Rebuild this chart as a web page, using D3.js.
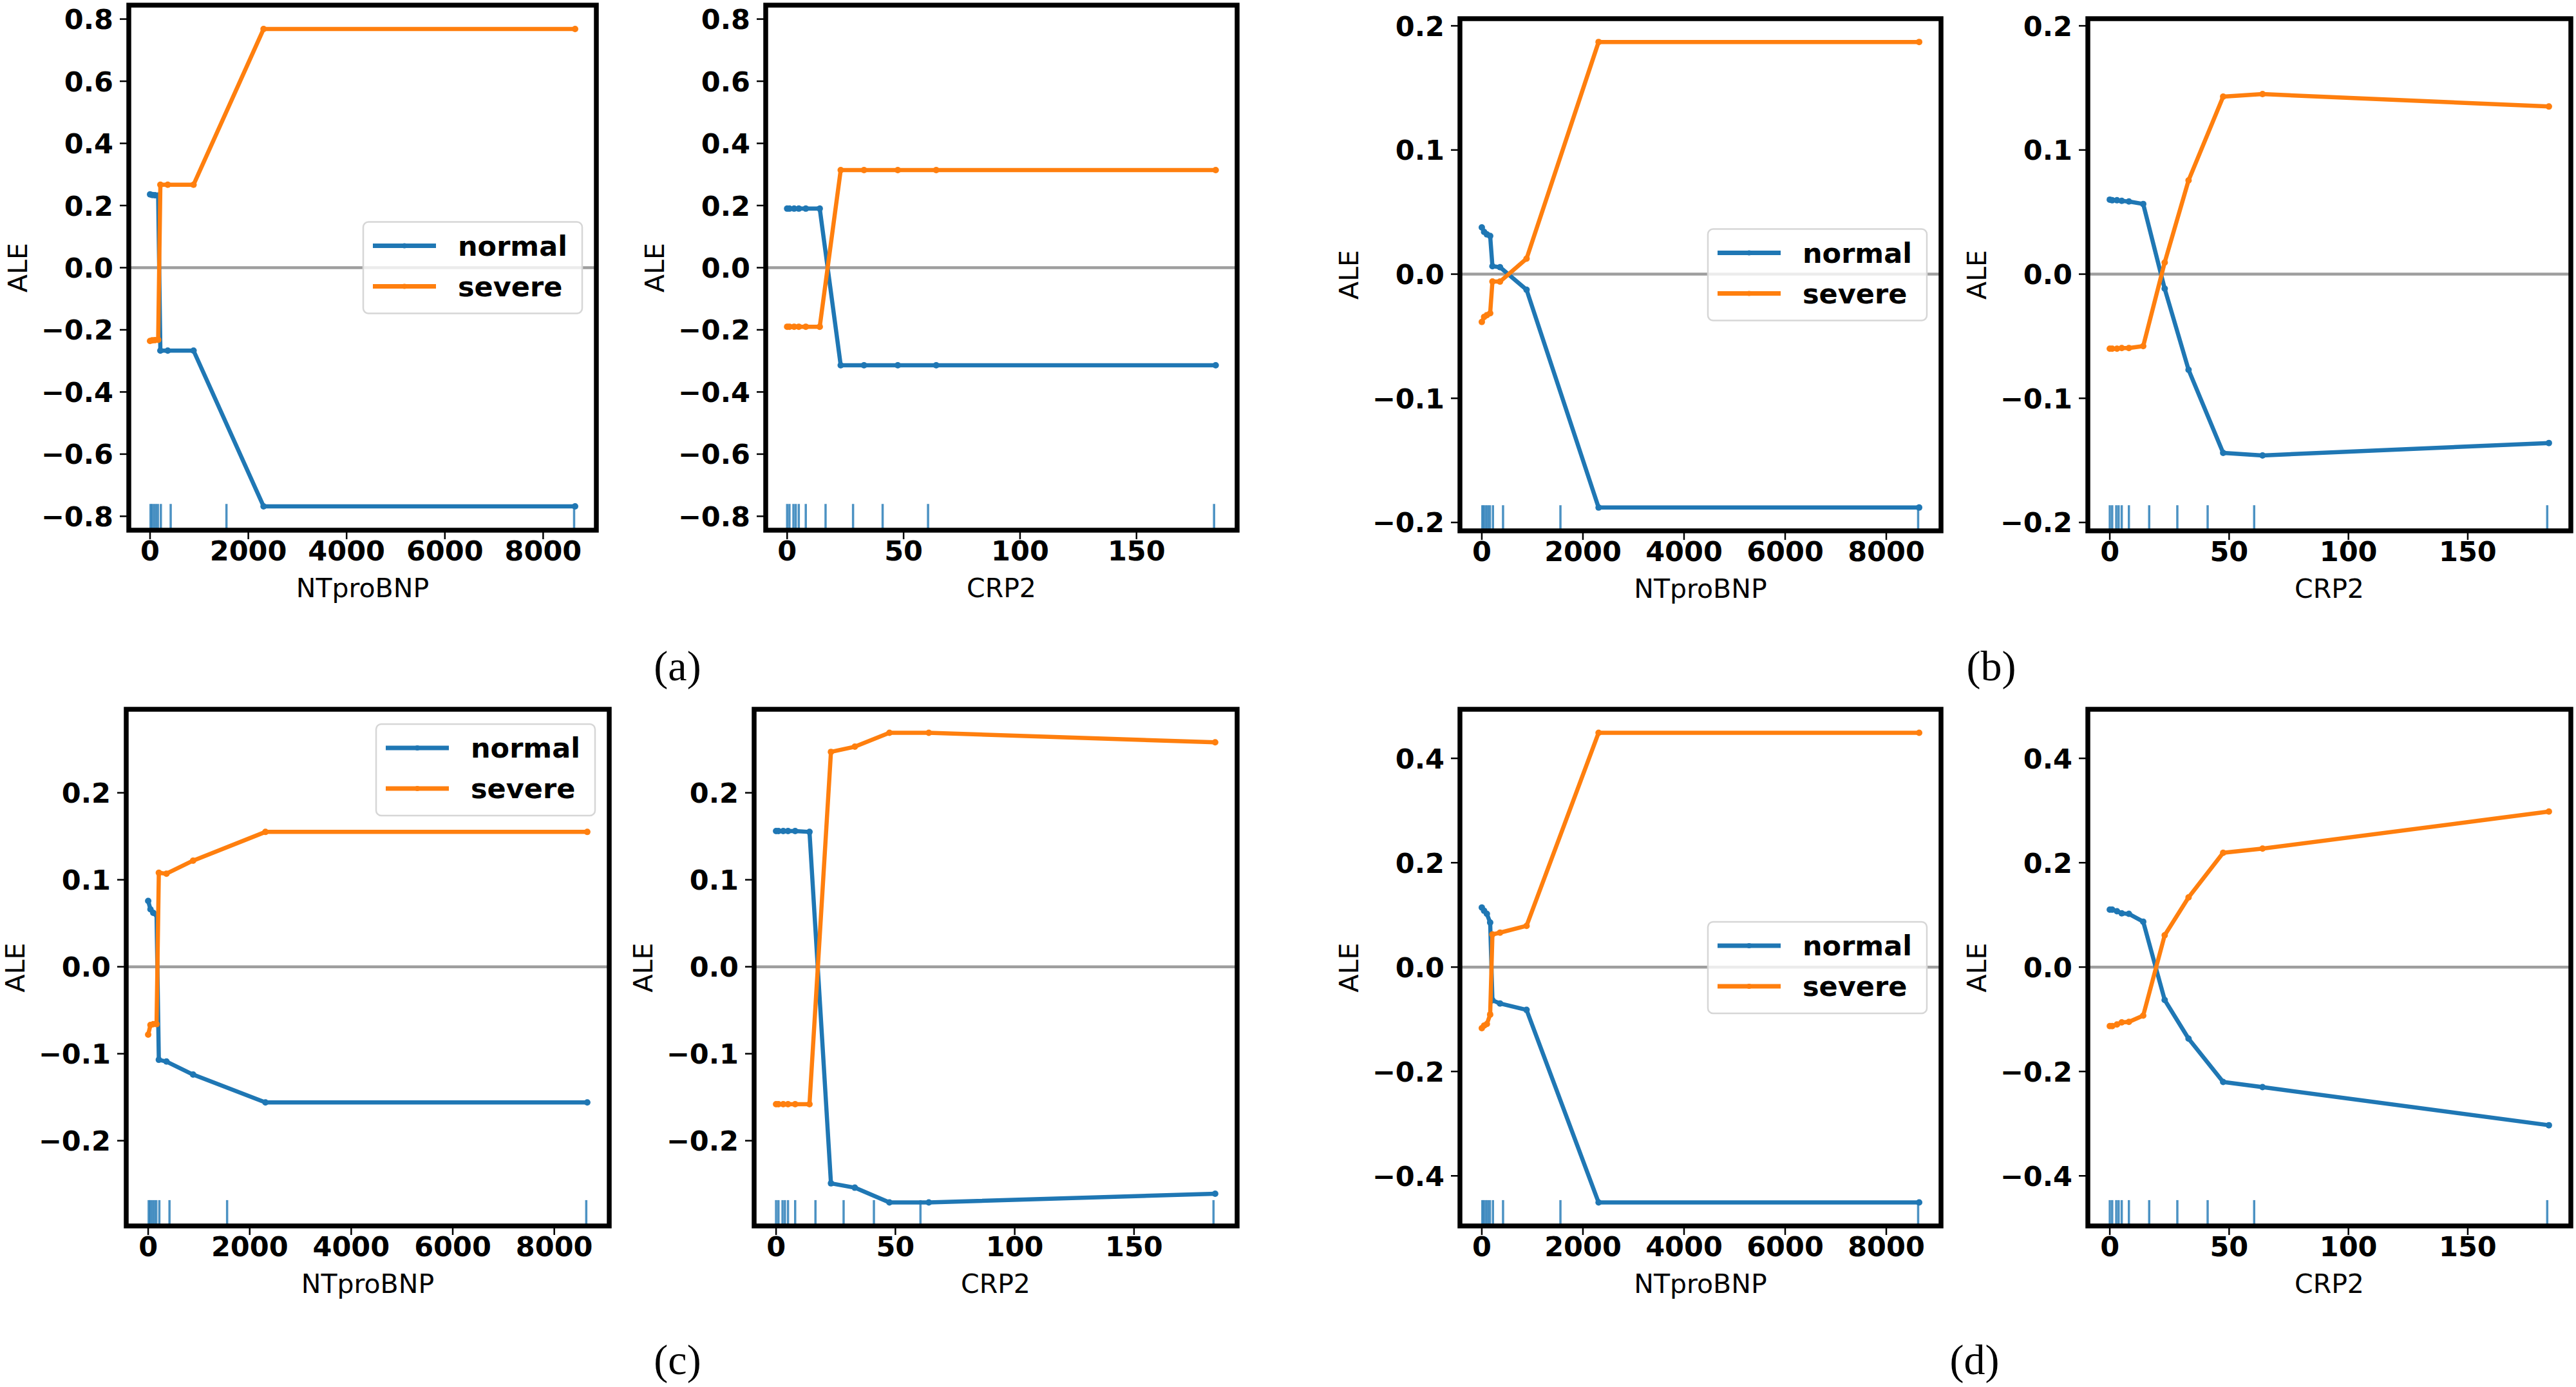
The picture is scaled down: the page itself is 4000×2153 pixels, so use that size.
<!DOCTYPE html>
<html>
<head>
<meta charset="utf-8">
<script src="https://cdn.jsdelivr.net/npm/d3@7"></script>
<style>
body { margin: 0; background: #fff; }
</style>
</head>
<body>
<script>
// feature grids (bin edges) and rug (deciles)
var ntGrid = [0, 45, 100, 165, 210, 360, 885, 2310, 8650];
var crpGrid = [0, 1, 3, 5, 8, 14, 23, 33, 47.5, 64, 184];
var ntRug = [10, 40, 80, 120, 160, 220, 420, 1555, 8630];
var crpRug = [0, 1, 2.7, 3.7, 5, 8, 16.5, 28.3, 41, 60.5, 183.3];

var ntTicks = [0, 2000, 4000, 6000, 8000];
var crpTicks = [0, 50, 100, 150];

var classes = ["normal", "severe"];

// (a)
var aNtNormal = [0.236, 0.234, 0.233, 0.232, -0.267, -0.267, -0.267, -0.768, -0.768];
var aNtSevere = [-0.236, -0.234, -0.233, -0.232, 0.267, 0.267, 0.267, 0.768, 0.768];
var aCrpNormal = [0.19, 0.19, 0.19, 0.19, 0.19, 0.19, -0.314, -0.314, -0.314, -0.314, -0.314];
var aCrpSevere = [-0.19, -0.19, -0.19, -0.19, -0.19, -0.19, 0.314, 0.314, 0.314, 0.314, 0.314];
var aTicks = [-0.8, -0.6, -0.4, -0.2, 0, 0.2, 0.4, 0.6, 0.8];

// (b)
var bNtNormal = [0.0376, 0.034, 0.032, 0.0307, 0.0064, 0.0056, -0.0126, -0.188, -0.188];
var bNtSevere = [-0.0385, -0.0345, -0.033, -0.0315, -0.006, -0.006, 0.0125, 0.187, 0.187];
var bCrpNormal = [0.06, 0.0595, 0.0595, 0.059, 0.0585, 0.0565, -0.0117, -0.077, -0.144, -0.146, -0.136];
var bCrpSevere = [-0.06, -0.06, -0.06, -0.0595, -0.0595, -0.058, 0.0094, 0.0755, 0.143, 0.145, 0.135];
var bTicks = [-0.2, -0.1, 0, 0.1, 0.2];

// (c)
var cNtNormal = [0.0757, 0.066, 0.062, 0.06, -0.107, -0.109, -0.124, -0.156, -0.156];
var cNtSevere = [-0.078, -0.067, -0.066, -0.066, 0.108, 0.107, 0.122, 0.155, 0.155];
var cCrpNormal = [0.156, 0.156, 0.156, 0.156, 0.156, 0.155, -0.249, -0.254, -0.271, -0.271, -0.261];
var cCrpSevere = [-0.158, -0.158, -0.158, -0.158, -0.158, -0.158, 0.247, 0.253, 0.269, 0.269, 0.258];
var cTicks = [-0.2, -0.1, 0, 0.1, 0.2];

// (d)
var dNtNormal = [0.114, 0.108, 0.102, 0.0854, -0.0635, -0.0697, -0.082, -0.451, -0.451];
var dNtSevere = [-0.117, -0.112, -0.109, -0.091, 0.0626, 0.066, 0.079, 0.449, 0.449];
var dCrpNormal = [0.11, 0.11, 0.107, 0.103, 0.102, 0.087, -0.063, -0.137, -0.22, -0.23, -0.303];
var dCrpSevere = [-0.113, -0.113, -0.11, -0.106, -0.105, -0.093, 0.061, 0.1335, 0.219, 0.227, 0.298];
var dTicks = [-0.4, -0.2, 0, 0.2, 0.4];

var colors = { normal: "#1f77b4", severe: "#ff7f0e", zero: "#9e9e9e", rug: "#1f77b4" };
var sansFont = "'DejaVu Sans', sans-serif";

// layout of each figure: two subplots sharing y, legend in the left one
var figures = [
    { tag: "(a)", tagX: 1052, tagY: 1056, top: 8, bottom: 823, yTicks: aTicks, legend: "center",
      left: { x0: 200, x1: 926, normal: aNtNormal, severe: aNtSevere },
      right: { x0: 1189, x1: 1921, normal: aCrpNormal, severe: aCrpSevere } },
    { tag: "(b)", tagX: 3092, tagY: 1056, top: 29, bottom: 824, yTicks: bTicks, legend: "center",
      left: { x0: 2267, x1: 3014, normal: bNtNormal, severe: bNtSevere },
      right: { x0: 3242, x1: 3992, normal: bCrpNormal, severe: bCrpSevere } },
    { tag: "(c)", tagX: 1052, tagY: 2133, top: 1101, bottom: 1903, yTicks: cTicks, legend: "upper",
      left: { x0: 196, x1: 946, normal: cNtNormal, severe: cNtSevere },
      right: { x0: 1171, x1: 1921, normal: cCrpNormal, severe: cCrpSevere } },
    { tag: "(d)", tagX: 3066, tagY: 2133, top: 1101, bottom: 1903, yTicks: dTicks, legend: "center",
      left: { x0: 2267, x1: 3014, normal: dNtNormal, severe: dNtSevere },
      right: { x0: 3242, x1: 3992, normal: dCrpNormal, severe: dCrpSevere } }
];

function padDomain(vals) {
    var e = d3.extent(vals);
    var m = (e[1] - e[0]) * 0.05;
    return [e[0] - m, e[1] + m];
}

var svg = d3.select("body").append("svg")
    .attr("width", 4000)
    .attr("height", 2153)
    .style("background", "#fff");

function drawLegend(g, x1, top, bottom, loc) {
    var w = 340, h = 142;
    var lx = x1 - 22 - w;
    var ly = loc === "upper" ? top + 23 : (top + bottom) / 2 - h / 2;
    var lg = g.append("g").attr("transform", "translate(" + lx + "," + ly + ")");
    lg.append("rect")
        .attr("x", 0).attr("y", 0).attr("width", w).attr("height", h)
        .attr("rx", 8).attr("ry", 8)
        .attr("fill", "#fff").attr("fill-opacity", 0.8)
        .attr("stroke", "#d6d6d6").attr("stroke-width", 2.5);
    classes.forEach(function (c, i) {
        var yy = 37 + i * 63;
        lg.append("line")
            .attr("x1", 15).attr("x2", 113).attr("y1", yy).attr("y2", yy)
            .attr("stroke", colors[c]).attr("stroke-width", 7);
        lg.append("circle")
            .attr("cx", 64).attr("cy", yy).attr("r", 4)
            .attr("fill", colors[c]);
        lg.append("text")
            .attr("x", 147).attr("y", yy).attr("dy", "0.36em")
            .attr("font-family", sansFont).attr("font-weight", "bold")
            .attr("font-size", 43).attr("fill", "#000")
            .text(c);
    });
}

function drawSubplot(sub, fig, grid, rug, xTicks, xLabel, yDomain, withLegend) {
    var g = svg.append("g");
    var x = d3.scaleLinear().domain(padDomain(grid.concat(rug))).range([sub.x0, sub.x1]);
    var y = d3.scaleLinear().domain(yDomain).range([fig.bottom, fig.top]);

    // zero line
    g.append("line")
        .attr("x1", sub.x0).attr("x2", sub.x1)
        .attr("y1", y(0)).attr("y2", y(0))
        .attr("stroke", colors.zero).attr("stroke-width", 4.5);

    // rug of deciles, 5% of axes height
    var rugTop = fig.bottom - (fig.bottom - fig.top) * 0.05;
    g.selectAll(".rug").data(rug).enter().append("line")
        .attr("x1", function (d) { return x(d); })
        .attr("x2", function (d) { return x(d); })
        .attr("y1", fig.bottom).attr("y2", rugTop)
        .attr("stroke", colors.rug).attr("stroke-opacity", 0.8).attr("stroke-width", 3.5);

    // ALE curves
    var line = d3.line()
        .x(function (d) { return x(d[0]); })
        .y(function (d) { return y(d[1]); });
    classes.forEach(function (c) {
        var pts = d3.zip(grid, sub[c]);
        g.append("path")
            .attr("d", line(pts))
            .attr("fill", "none")
            .attr("stroke", colors[c])
            .attr("stroke-width", 6.5)
            .attr("stroke-linejoin", "round");
        g.selectAll(".dot-" + c).data(pts).enter().append("circle")
            .attr("cx", function (d) { return x(d[0]); })
            .attr("cy", function (d) { return y(d[1]); })
            .attr("r", 5)
            .attr("fill", colors[c]);
    });

    // frame
    g.append("rect")
        .attr("x", sub.x0).attr("y", fig.top)
        .attr("width", sub.x1 - sub.x0).attr("height", fig.bottom - fig.top)
        .attr("fill", "none").attr("stroke", "#000").attr("stroke-width", 7.5);

    // y ticks
    var fmtY = d3.format(".1f");
    fig.yTicks.forEach(function (t) {
        g.append("line")
            .attr("x1", sub.x0 - 14).attr("x2", sub.x0)
            .attr("y1", y(t)).attr("y2", y(t))
            .attr("stroke", "#000").attr("stroke-width", 2.5);
        g.append("text")
            .attr("x", sub.x0 - 24).attr("y", y(t)).attr("dy", "0.36em")
            .attr("text-anchor", "end")
            .attr("font-family", sansFont).attr("font-weight", "bold").attr("font-size", 43)
            .text(fmtY(t));
    });

    // x ticks
    xTicks.forEach(function (t) {
        g.append("line")
            .attr("x1", x(t)).attr("x2", x(t))
            .attr("y1", fig.bottom).attr("y2", fig.bottom + 14)
            .attr("stroke", "#000").attr("stroke-width", 2.5);
        g.append("text")
            .attr("x", x(t)).attr("y", fig.bottom + 47)
            .attr("text-anchor", "middle")
            .attr("font-family", sansFont).attr("font-weight", "bold").attr("font-size", 43)
            .text(d3.format("d")(t));
    });

    // axis labels
    g.append("text")
        .attr("x", (sub.x0 + sub.x1) / 2).attr("y", fig.bottom + 104)
        .attr("text-anchor", "middle")
        .attr("font-family", sansFont).attr("font-size", 41)
        .text(xLabel);
    g.append("text")
        .attr("transform", "translate(" + (sub.x0 - 173) + "," + ((fig.top + fig.bottom) / 2) + ") rotate(-90)")
        .attr("dy", "0.36em")
        .attr("text-anchor", "middle")
        .attr("font-family", sansFont).attr("font-size", 41)
        .text("ALE");

    if (withLegend) drawLegend(g, sub.x1, fig.top, fig.bottom, fig.legend);
}

figures.forEach(function (fig) {
    // shared y range over both subplots
    var all = fig.left.normal.concat(fig.left.severe, fig.right.normal, fig.right.severe);
    var yDomain = padDomain(all);
    drawSubplot(fig.left, fig, ntGrid, ntRug, ntTicks, "NTproBNP", yDomain, true);
    drawSubplot(fig.right, fig, crpGrid, crpRug, crpTicks, "CRP2", yDomain, false);

    svg.append("text")
        .attr("x", fig.tagX).attr("y", fig.tagY)
        .attr("text-anchor", "middle")
        .attr("font-family", "'Liberation Serif', 'Times New Roman', serif")
        .attr("font-size", 66)
        .text(fig.tag);
});
</script>
</body>
</html>
